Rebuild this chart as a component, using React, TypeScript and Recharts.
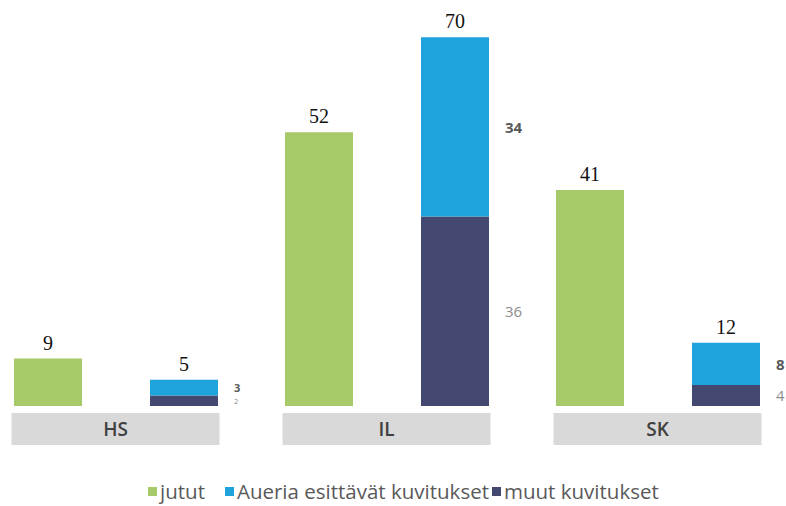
import { BarChart, Bar, XAxis, YAxis, LabelList, Legend } from 'recharts';

const papers = ['HS', 'IL', 'SK'];
const jutut = [9, 52, 41];
const aueria = [3, 34, 8];
const muut = [2, 36, 4];

const chartData = papers.map((name, i) => ({
  name,
  jutut: jutut[i],
  aueria: aueria[i],
  muut: muut[i],
  total: aueria[i] + muut[i],
}));

const GREEN = '#a6c96a';
const BLUE = '#1ea3dc';
const NAVY = '#434870';

const legendItems = [
  { label: 'jutut', color: GREEN, gap: 148 },
  { label: 'Aueria esittävät kuvitukset', color: BLUE, gap: 20 },
  { label: 'muut kuvitukset', color: NAVY, gap: 3 },
];

const CategoryTick = (props: any) => {
  const { x, y, payload } = props;
  return (
    <g>
      <rect x={x - 104} y={y + 7} width={208} height={32} fill="#d9d9d9" />
      <text
        x={x}
        y={y + 30}
        textAnchor="middle"
        fontFamily="'Open Sans', sans-serif"
        fontWeight={600}
        fontSize={19}
        fill="#404040"
      >
        {payload.value}
      </text>
    </g>
  );
};

// segment value beside the stacked bar, shrunk when the segment is thin
const makeSideLabel = (color: string, weight: number) => (props: any) => {
  const { x, y, width, height, value } = props;
  const size = Math.min(15, Math.max(7.5, height * 0.7));
  return (
    <text
      x={x + width + 16}
      y={y + height / 2}
      dominantBaseline="central"
      fill={color}
      fontWeight={weight}
      fontSize={size}
      fontFamily="'Open Sans', sans-serif"
    >
      {value}
    </text>
  );
};

const LegendContent = () => (
  <div style={{ display: 'flex', alignItems: 'center', height: 30, fontFamily: "'Open Sans', sans-serif", fontSize: 20.5, color: '#595959' }}>
    {legendItems.map((it) => (
      <div key={it.label} style={{ display: 'flex', alignItems: 'center', marginLeft: it.gap }}>
        <span style={{ width: 9, height: 9, background: it.color, marginRight: 3, display: 'inline-block' }} />
        <span>{it.label}</span>
      </div>
    ))}
  </div>
);

export default function App() {
  return (
    <div style={{ position: 'absolute', left: 0, top: 0, background: '#fff' }}>
      <BarChart
        width={786}
        height={506}
        data={chartData}
        barGap={68}
        margin={{ top: 11, right: -7, bottom: 30, left: -20 }}
      >
        <XAxis dataKey="name" axisLine={false} tickLine={false} tickSize={0} tickMargin={0} height={40} tick={<CategoryTick />} interval={0} />
        <YAxis hide domain={[0, 75]} />
        <Legend
          content={<LegendContent />}
          verticalAlign="bottom"
          wrapperStyle={{ left: 0, bottom: 0, width: 786 }}
        />
        <Bar dataKey="jutut" name="jutut" stackId="j" fill={GREEN} barSize={68} isAnimationActive={false}>
          <LabelList dataKey="jutut" position="top" offset={9} fill="#111" fontSize={20} fontFamily="'Liberation Serif', serif" />
        </Bar>
        <Bar dataKey="muut" name="muut kuvitukset" stackId="k" fill={NAVY} barSize={68} isAnimationActive={false}>
          <LabelList dataKey="muut" content={makeSideLabel('#8c8c8c', 400)} />
        </Bar>
        <Bar dataKey="aueria" name="Aueria esittävät kuvitukset" stackId="k" fill={BLUE} barSize={68} isAnimationActive={false}>
          <LabelList dataKey="aueria" content={makeSideLabel('#595959', 700)} />
          <LabelList dataKey="total" position="top" offset={9} fill="#111" fontSize={20} fontFamily="'Liberation Serif', serif" />
        </Bar>
      </BarChart>
    </div>
  );
}
